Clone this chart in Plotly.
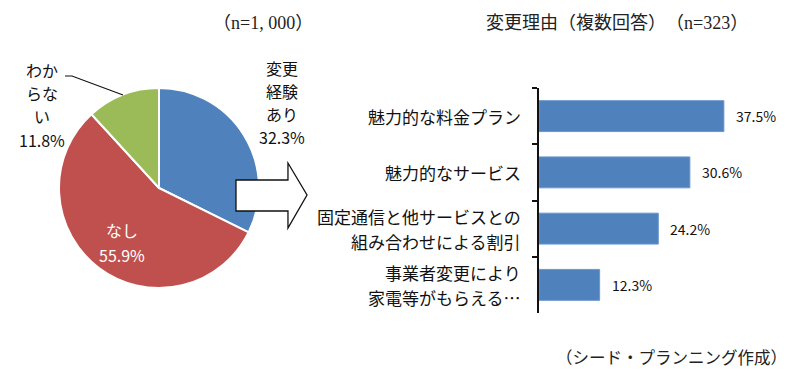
import plotly.graph_objects as go

# page body has an 8px margin, so the figure is drawn 8px inside the window
OFF = 8
W, H = 800 - 2 * OFF, 377 - 2 * OFF

# ---- data ----
pie_labels = ["変更経験あり", "なし", "わからない"]
pie_values = [32.3, 55.9, 11.8]
pie_colors = ["#4F81BD", "#C0504D", "#9BBB59"]

bar_categories = ["魅力的な料金プラン", "魅力的なサービス",
                  "固定通信と他サービスとの組み合わせによる割引",
                  "事業者変更により家電等がもらえる…"]
bar_label_lines = [["魅力的な料金プラン"], ["魅力的なサービス"],
                   ["固定通信と他サービスとの", "組み合わせによる割引"],
                   ["事業者変更により", "家電等がもらえる…"]]
bar_values = [37.5, 30.6, 24.2, 12.3]

JP = "Noto Sans CJK JP"
SERIF = "Liberation Serif, Noto Sans CJK JP"


def px(x):
    return (x - OFF) / W


def py(y):
    return 1 - (y - OFF) / H


fig = go.Figure()

# pie
cx, cy, r = 159, 188, 100
fig.add_trace(go.Pie(
    labels=pie_labels, values=pie_values, sort=False, direction="clockwise",
    rotation=0, textinfo="none", hoverinfo="label+percent",
    marker=dict(colors=pie_colors, line=dict(color="white", width=2)),
    domain=dict(x=[px(cx - r), px(cx + r)], y=[py(cy + r), py(cy - r)]),
    showlegend=False,
))

# bars
fig.add_trace(go.Bar(
    x=bar_values, y=bar_categories, orientation="h",
    marker=dict(color="#4F81BD", line=dict(color="#6A96CC", width=1)),
    width=0.55, showlegend=False, xaxis="x", yaxis="y",
))

annotations = []
for v, c in zip(bar_values, bar_categories):
    annotations.append(dict(x=v, y=c, xref="x", yref="y", text=f"{v:.1f}%",
                            showarrow=False, xanchor="left", xshift=10,
                            font=dict(family=JP, size=14, color="#111")))

# category labels, one text per line
LINE_GAP = 25
for c, lines in zip(bar_categories, bar_label_lines):
    n = len(lines)
    for i, t in enumerate(lines):
        shift = ((n - 1) / 2 - i) * LINE_GAP
        annotations.append(dict(x=px(523), y=c, xref="paper", yref="y",
                                text=t, showarrow=False, xanchor="right",
                                yanchor="middle", yshift=shift,
                                font=dict(family=JP, size=17, color="#111")))

# pie labels, one text per line
pie_text_font = dict(family=JP, size=16, color="#111")
for x0, ys, lines in [(282, [68, 91, 114, 137], ["変更", "経験", "あり", "32.3%"]),
                      (42, [70, 93, 116, 140], ["わか", "らな", "い", "11.8%"])]:
    for y0, t in zip(ys, lines):
        annotations.append(dict(x=px(x0), y=py(y0), xref="paper", yref="paper",
                                text=t, showarrow=False, font=pie_text_font,
                                xanchor="center", yanchor="middle"))
for y0, t in zip([230, 255], ["なし", "55.9%"]):
    annotations.append(dict(x=px(122), y=py(y0), xref="paper", yref="paper",
                            text=t, showarrow=False,
                            font=dict(family=JP, size=16, color="white"),
                            xanchor="center", yanchor="middle"))

# titles
annotations.append(dict(x=px(263), y=py(23), xref="paper", yref="paper",
                        text="（n=1, 000）", showarrow=False,
                        xanchor="center", yanchor="middle",
                        font=dict(family=SERIF, size=18, color="#222")))
annotations.append(dict(x=px(617), y=py(23), xref="paper", yref="paper",
                        text="変更理由（複数回答）　（n=323）", showarrow=False,
                        xanchor="center", yanchor="middle",
                        font=dict(family=SERIF, size=18, color="#222")))
annotations.append(dict(x=px(789), y=py(358), xref="paper", yref="paper",
                        text="（シード・プランニング作成）", showarrow=False,
                        xanchor="right", yanchor="middle",
                        font=dict(family=SERIF, size=16.5, color="#222")))

# arrow shape and leader line
arrow_pts = [(236, 180), (288, 180), (288, 163), (307, 195), (288, 228),
             (288, 211), (236, 211)]
path = "M " + " L ".join(f"{px(x):.4f},{py(y):.4f}" for x, y in arrow_pts) + " Z"
leader = [(65, 76), (72, 76), (123, 95)]
lpath = "M " + " L ".join(f"{px(x):.4f},{py(y):.4f}" for x, y in leader)
shapes = [
    dict(type="path", path=path, xref="paper", yref="paper",
         fillcolor="white", line=dict(color="#111", width=1.3)),
    dict(type="path", path=lpath, xref="paper", yref="paper",
         line=dict(color="#111", width=1.2)),
]

fig.update_layout(
    width=W, height=H, margin=dict(l=0, r=0, t=0, b=0),
    paper_bgcolor="white", plot_bgcolor="white",
    xaxis=dict(domain=[px(539), px(785.5)], range=[0, 50], visible=False,
               showgrid=False, zeroline=False),
    yaxis=dict(domain=[py(313), py(88)], autorange="reversed", type="category",
               showline=True, linecolor="#111", linewidth=1.5,
               ticks="outside", tickson="boundaries", ticklen=5,
               tickcolor="#111", tickwidth=1.5, showgrid=False,
               showticklabels=False),
    annotations=annotations, shapes=shapes,
)

fig.write_html("out.html")
